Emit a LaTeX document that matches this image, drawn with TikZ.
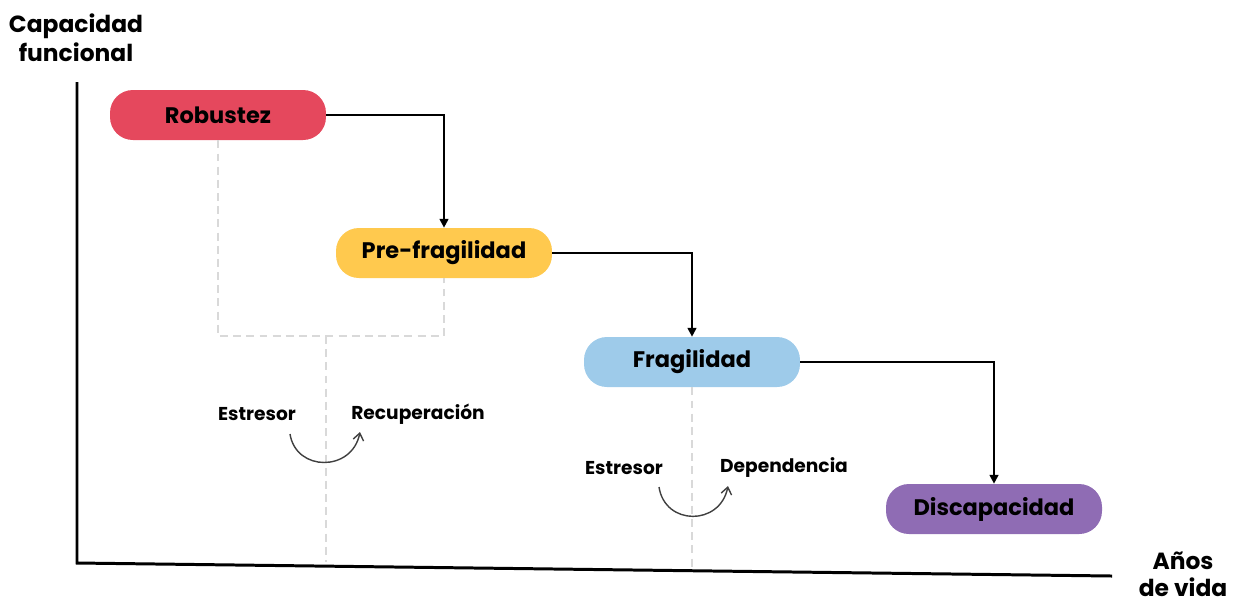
\documentclass[tikz,border=0pt]{standalone}
\usepackage{fontspec}
\setmainfont{Poppins}[BoldFont={* Bold}]
\usetikzlibrary{arrows.meta}
\definecolor{cred}{HTML}{E5485D}
\definecolor{cyellow}{HTML}{FFC94E}
\definecolor{cblue}{HTML}{9ECBEA}
\definecolor{cpurple}{HTML}{8F6CB4}
\definecolor{cdash}{HTML}{D9D9D9}
\definecolor{ccurve}{HTML}{404040}
\tikzset{
  stage/.style={rounded corners=13pt, minimum width=4.32cm, minimum height=1cm, inner sep=0pt,
    font=\fontsize{12.8}{14}\selectfont\bfseries},
  axislabel/.style={font=\fontsize{13.3}{16.5}\selectfont\bfseries, align=center, inner sep=0pt},
  small/.style={font=\fontsize{10.6}{12}\selectfont\bfseries, inner sep=0pt},
  flow/.style={line width=1.1pt, -{Triangle[length=5pt,width=5pt]}},
  guide/.style={cdash, line width=0.9pt, dash pattern=on 4.5pt off 3pt},
  curvearrow/.style={ccurve, line width=0.8pt, -{Straight Barb[length=4pt,width=6pt]}},
  axisline/.style={line width=1.7pt}
}
\begin{document}
\begin{tikzpicture}[x=0.02cm, y=-0.02cm]
\useasboundingbox (0,0) rectangle (1239,603);
% axes
\coordinate (ytop) at (77,82);
\coordinate (orig) at (77,563);
\coordinate (xend) at (1112,576);
\draw[axisline] (ytop) -- (orig) -- (xend);
\node[axislabel] (ylab) at (76,38) {Capacidad\\funcional};
\node[axislabel, font=\fontsize{13.3}{15.5}\selectfont\bfseries] (xlab) at (1183,574) {Años\\de vida};
% guides
\coordinate (g1) at (218,336);
\coordinate (g2) at (444,336);
\coordinate (g3) at (326,336);
\coordinate (g3b) at (326,562);
\coordinate (g4b) at (692,570);
% stages
\node[stage, fill=cred] (rob) at (218,115) {Robustez};
\node[stage, fill=cyellow] (pre) at (444,253) {Pre-fragilidad};
\node[stage, fill=cblue] (fra) at (692,362) {Fragilidad};
\node[stage, fill=cpurple] (dis) at (994,509) {Discapacidad};
\draw[guide] (rob.south) -- (g1) -- (g2) -- (pre.south);
\draw[guide] (g3) -- (g3b);
\draw[guide] (fra.south) -- (g4b);
% flow arrows
\draw[flow] (rob.east) -| (pre.north);
\draw[flow] (pre.east) -| (fra.north);
\draw[flow] (fra.east) -| (dis.north);
% stressor labels
\node[small] (e1) at (257,414) {Estresor};
\node[small] (r1) at (418,414) {Recuperación};
\node[small] (e2) at (624,468) {Estresor};
\node[small] (d2) at (784,468) {Dependencia};
\coordinate (c1s) at (290,434);
\coordinate (c1e) at (360,432);
\coordinate (c2s) at (659,487);
\coordinate (c2e) at (728,486);
\draw[curvearrow] (c1s) .. controls (296,472) and (352,472) .. (c1e);
\draw[curvearrow] (c2s) .. controls (665,526) and (720,526) .. (c2e);
\end{tikzpicture}
\end{document}
